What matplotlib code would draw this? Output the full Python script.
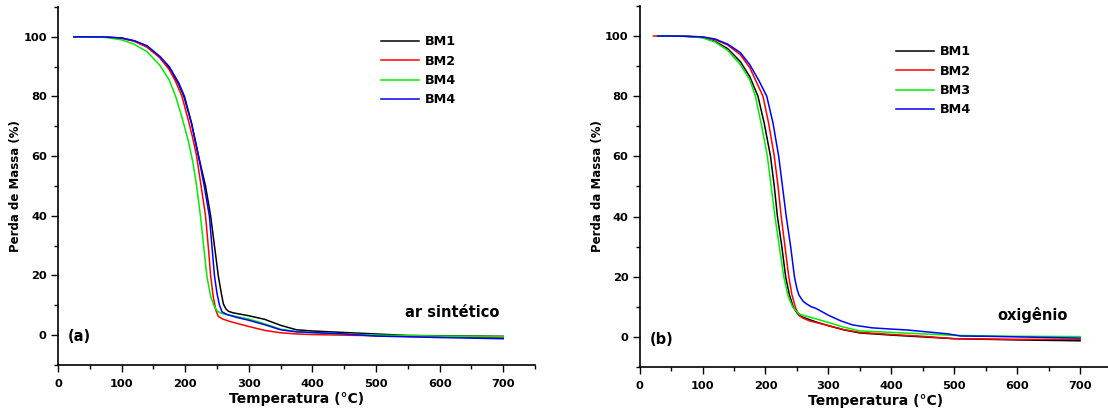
import matplotlib
matplotlib.use("Agg")
import matplotlib.pyplot as plt
from matplotlib.ticker import MultipleLocator

plt.rcParams["font.family"] = ["DejaVu Sans"]
plt.rcParams["font.weight"] = "bold"

# (a) ar sintetico -- temperature (C) and mass (%)
A_BM1_T = [25, 50, 75, 100, 120, 140, 160, 175, 190, 198, 210, 221, 232, 240, 246, 252, 256, 260, 264, 268,
           275, 300, 325, 350, 375, 400, 450, 500, 550, 600, 700]
A_BM1_M = [100, 100, 99.9, 99.6, 98.6, 96.8, 93.2, 89.5, 84, 80, 71, 60, 50, 40, 30, 20, 15, 10.5, 8.8, 8,
           7.5, 6.5, 5.3, 3.3, 1.8, 1.4, 0.9, 0.4, -0.1, -0.2, -0.4]
A_BM2_T = [25, 50, 75, 100, 120, 140, 160, 175, 185, 195, 205, 212, 218, 225, 232, 237, 240, 244, 248, 252,
           258, 270, 300, 325, 350, 375, 400, 450, 500, 600, 700]
A_BM2_M = [100, 100, 99.9, 99.5, 98.5, 96.5, 93, 89, 85, 80, 72, 66, 60, 50, 40, 28, 20, 13, 8.5, 6.3,
           5.5, 4.6, 2.9, 1.6, 0.8, 0.4, 0.2, 0, -0.2, -0.6, -0.8]
A_BM4G_T = [25, 50, 75, 100, 120, 140, 160, 175, 185, 195, 205, 212, 218, 224, 229, 234, 240, 245, 250, 255,
            262, 280, 300, 325, 350, 375, 400, 450, 500, 600, 700]
A_BM4G_M = [100, 100, 99.8, 99, 97.5, 95, 90.5, 85.5, 80, 73, 65, 58, 50, 40, 30, 20, 13, 10, 8.2, 7.5,
            7, 6.3, 5.4, 3.8, 2.0, 1.2, 0.8, 0.4, 0.0, -0.3, -0.5]
A_BM4B_T = [25, 50, 75, 100, 120, 140, 160, 175, 190, 199, 210, 221, 230, 238, 242, 246, 250, 254, 258, 265,
            280, 300, 325, 350, 375, 400, 450, 500, 600, 700]
A_BM4B_M = [100, 100, 99.9, 99.6, 98.7, 97, 93.5, 90, 84.5, 80, 71, 60, 50, 40, 30, 20, 14, 10, 7.8, 7,
            6, 5, 3.5, 1.8, 1.1, 0.9, 0.4, -0.3, -0.8, -1.2]

# (b) oxigenio
B_BM1_T = [28, 50, 75, 100, 120, 140, 160, 175, 188, 198, 208, 214, 219, 226, 232, 238, 244, 250, 255, 260,
           280, 300, 325, 350, 400, 450, 500, 600, 700]
B_BM1_M = [100, 100, 99.9, 99.5, 98.2, 95.8, 91.5, 86.5, 80, 71, 60, 50, 40, 30, 20, 14, 10, 8.0, 7.0, 6.5,
           5.0, 3.7, 2.3, 1.3, 0.6, 0, -0.6, -1.0, -1.3]
B_BM2_T = [22, 50, 75, 100, 120, 140, 160, 175, 196, 205, 214, 220, 225, 231, 237, 242, 248, 253, 258, 270,
           300, 325, 350, 400, 450, 500, 600, 700]
B_BM2_M = [100, 100, 99.9, 99.7, 98.8, 97, 93.8, 89.5, 80, 71, 60, 50, 40, 30, 20, 14, 9.5, 7.2, 6.4, 5.3,
           3.8, 2.4, 1.5, 0.8, 0.2, -0.6, -0.8, -0.8]
B_BM3_T = [30, 50, 75, 100, 120, 140, 160, 175, 184, 194, 203, 209, 215, 222, 229, 236, 243, 250, 255, 260,
           280, 300, 325, 350, 400, 450, 500, 600, 700]
B_BM3_M = [100, 100, 99.9, 99.4, 98, 95.2, 90.5, 85.5, 80, 70, 60, 50, 40, 30, 20, 13.5, 10, 8.3, 7.5, 7.2,
           6.0, 4.8, 3.2, 2.0, 1.5, 1.0, 0.5, 0.2, 0.1]
B_BM4_T = [30, 50, 75, 100, 120, 140, 160, 175, 190, 202, 212, 221, 227, 233, 240, 246, 250, 253, 256, 260,
           265, 273, 280, 300, 320, 338, 350, 370, 400, 425, 450, 490, 510, 550, 600, 700]
B_BM4_M = [100, 100, 99.9, 99.7, 99, 97.3, 94.5, 90.5, 85, 80, 71, 60, 50, 40, 30, 20, 16, 14, 13, 11.8,
           11, 10, 9.5, 7.2, 5.3, 4, 3.6, 3.0, 2.6, 2.3, 1.8, 1.0, 0.3, 0.2, 0, -0.4]

LABELS_A = ["BM1", "BM2", "BM4", "BM4"]
LABELS_B = ["BM1", "BM2", "BM3", "BM4"]
COLORS = ["black", "#ff0000", "#00ee00", "#0000ff"]


def style_axis(ax, ylabel):
    ax.set_xlim(0, 750)
    ax.set_ylim(-10, 110)
    ax.xaxis.set_major_locator(MultipleLocator(100))
    ax.xaxis.set_minor_locator(MultipleLocator(50))
    ax.yaxis.set_major_locator(MultipleLocator(20))
    ax.yaxis.set_minor_locator(MultipleLocator(10))
    ax.set_yticks([0, 20, 40, 60, 80, 100])
    for side in ("top", "right"):
        ax.spines[side].set_visible(False)
    for side in ("left", "bottom"):
        ax.spines[side].set_linewidth(1.2)
    ax.tick_params(which="major", direction="out", length=5, width=1.0, labelsize=8.2)
    ax.tick_params(which="minor", direction="out", length=3, width=1.0)
    ax.tick_params(axis="x", which="major", pad=5)
    ax.tick_params(axis="y", which="major", pad=3)
    ax.set_xlabel("Temperatura (°C)", fontsize=10, fontweight="bold", labelpad=2)
    ax.set_ylabel(ylabel, fontsize=8.5, fontweight="bold", labelpad=1)


def draw_panel(ax, series, labels, legend_anchor):
    for (t, m), label, color in zip(series, labels, COLORS):
        ax.plot(t, m, color=color, lw=1.1, label=label)
    ax.legend(loc="upper left", bbox_to_anchor=legend_anchor, frameon=False,
              prop={"size": 9.2, "weight": "bold"}, handlelength=3.0, handletextpad=0.45,
              labelspacing=0.5, borderpad=0, borderaxespad=0)


fig = plt.figure(figsize=(11.08, 4.15), dpi=100)
ax_a = fig.add_axes([0.0523, 0.1205, 0.4306, 0.8627])
ax_b = fig.add_axes([0.5773, 0.1157, 0.4259, 0.870])

draw_panel(ax_a, [(A_BM1_T, A_BM1_M), (A_BM2_T, A_BM2_M), (A_BM4G_T, A_BM4G_M), (A_BM4B_T, A_BM4B_M)],
           LABELS_A, (0.6765, 0.921))
style_axis(ax_a, "Perda de Massa (%)")
ax_a.text(545, 6.0, "ar sintético", fontsize=10.5, fontweight="bold", ha="left", va="baseline")
ax_a.text(15, -2.0, "(a)", fontsize=10.5, fontweight="bold", ha="left", va="baseline")

draw_panel(ax_b, [(B_BM1_T, B_BM1_M), (B_BM2_T, B_BM2_M), (B_BM3_T, B_BM3_M), (B_BM4_T, B_BM4_M)],
           LABELS_B, (0.543, 0.891))
style_axis(ax_b, "Perda da Massa (%)")
ax_b.text(569, 5.7, "oxigênio", fontsize=10.5, fontweight="bold", ha="left", va="baseline")
ax_b.text(16, -2.5, "(b)", fontsize=10.5, fontweight="bold", ha="left", va="baseline")

fig.savefig("out.png", dpi=100)
